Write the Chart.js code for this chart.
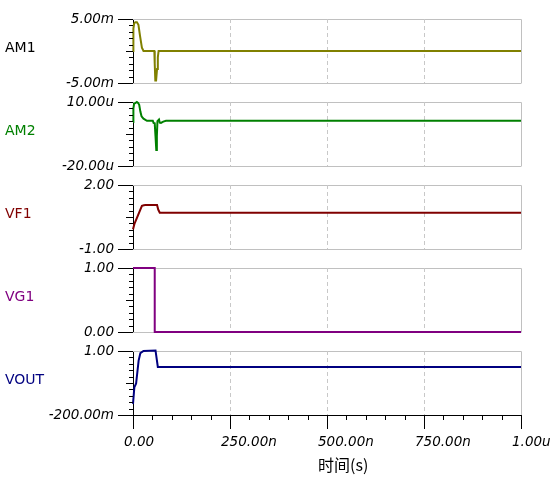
<!DOCTYPE html>
<html>
<head>
<meta charset="utf-8">
<script src="https://cdn.jsdelivr.net/npm/chart.js@4.4.0/dist/chart.umd.min.js"></script>
<style>
body { margin: 0; background: #fff; }
#wrap { position: relative; width: 554px; height: 485px; }
#wrap canvas { position: absolute; left: 0; }
</style>
</head>
<body>
<div id="wrap">
  <canvas id="cAM1" width="554" height="84" style="top:9px"></canvas>
  <canvas id="cAM2" width="554" height="84" style="top:92px"></canvas>
  <canvas id="cVF1" width="554" height="84" style="top:175px"></canvas>
  <canvas id="cVG1" width="554" height="84" style="top:258px"></canvas>
  <canvas id="cVOUT" width="554" height="144" style="top:341px"></canvas>
</div>
<script>
// 时间轴 (ns)
const xTickLabels = ['0.00', '250.00n', '500.00n', '750.00n', '1.00u'];
const gridTimes = [250, 500, 750];
const xTitle = '时间(s)';

// AM1 (mA)
const am1Time = [0, 1, 3, 6, 10, 14, 18, 23, 27, 55, 56, 57.5, 59.5, 62, 64, 66, 1000];
const am1Val  = [0, 3.5, 4.3, 4.5, 4.5, 4.1, 2.4, 0.5, 0, 0, -2, -4.6, -4.6, -2.8, -1, 0, 0];
const am1Ticks = ['-5.00m', '5.00m'];

// AM2 (uA)
const am2Time = [0, 1, 3, 6, 10, 13, 16, 19, 22, 27, 36, 51, 53, 56, 58, 60, 61.5, 63, 67, 69, 72, 78, 85, 1000];
const am2Val  = [0.6, 7, 9.3, 9.5, 10, 9.6, 8.7, 5.5, 3.3, 2.2, 1.2, 1.2, 0.2, 0, -6, -12.5, -6, 1.0, 1.8, 0.3, 0.2, 0.8, 1.2, 1.2];
const am2Ticks = ['-20.00u', '10.00u'];

// VF1 (V)
const vf1Time = [0, 4, 23, 28, 32, 62, 65, 69, 1000];
const vf1Val  = [-0.08, 0.19, 1.02, 1.05, 1.06, 1.06, 0.85, 0.70, 0.70];
const vf1Ticks = ['-1.00', '2.00'];

// VG1 (V)
const vg1Time = [0, 56, 56, 1000];
const vg1Val  = [1, 1, 0, 0];
const vg1Ticks = ['0.00', '1.00'];

// VOUT (V)
const voutTime = [0, 3.5, 8, 14.5, 19, 27, 58, 64, 1000];
const voutVal  = [0.01, 0.32, 0.39, 0.82, 0.96, 1.0, 1.01, 0.70, 0.70];
const voutTicks = ['-200.00m', '1.00'];

const tickFont = { family: '"DejaVu Sans", sans-serif', size: 13.5, style: 'italic' };

// 边框、虚线网格、刻度线和通道名
const panelDeco = {
  id: 'panelDeco',
  beforeDatasetsDraw(chart, args, o) {
    const { ctx, chartArea: a } = chart;
    const x = chart.scales.x;
    ctx.save();
    ctx.lineWidth = 1;
    ctx.strokeStyle = '#c0c0c0';
    ctx.beginPath();
    ctx.moveTo(a.left, a.top + 0.5);
    ctx.lineTo(a.right + 0.5, a.top + 0.5);
    ctx.lineTo(a.right + 0.5, a.bottom);
    if (!o.bottom) {
      ctx.moveTo(a.left, a.bottom + 0.5);
      ctx.lineTo(a.right + 0.5, a.bottom + 0.5);
    }
    ctx.stroke();
    ctx.setLineDash([4, 3]);
    ctx.strokeStyle = '#c8c8c8';
    gridTimes.forEach(t => {
      const px = Math.round(x.getPixelForValue(t)) + 0.5;
      ctx.beginPath();
      ctx.moveTo(px, a.top);
      ctx.lineTo(px, a.bottom);
      ctx.stroke();
    });
    ctx.restore();
  },
  afterDraw(chart, args, o) {
    const { ctx, chartArea: a } = chart;
    const x = chart.scales.x, y = chart.scales.y;
    ctx.save();
    ctx.strokeStyle = '#000';
    ctx.lineWidth = 1;
    const n = y.ticks.length;
    y.ticks.forEach((t, i) => {
      const py = Math.round(y.getPixelForValue(t.value)) + 0.5;
      const len = (i === 0 || i === n - 1) ? 15 : (i === (n - 1) / 2 ? 7 : 4);
      ctx.beginPath();
      ctx.moveTo(a.left - len, py);
      ctx.lineTo(a.left, py);
      ctx.stroke();
    });
    if (o.bottom) {
      x.ticks.forEach(t => {
        const px = Math.round(x.getPixelForValue(t.value)) + 0.5;
        const len = t.value % 250 === 0 ? 14 : 5;
        ctx.beginPath();
        ctx.moveTo(px, a.bottom);
        ctx.lineTo(px, a.bottom + len);
        ctx.stroke();
      });
      ctx.font = '16px "Noto Sans CJK SC", sans-serif';
      ctx.fillStyle = '#000';
      ctx.textBaseline = 'middle';
      ctx.fillText(xTitle, 318, a.bottom + 50);
    }
    ctx.font = '14px "DejaVu Sans", sans-serif';
    ctx.fillStyle = o.labelColor;
    ctx.textBaseline = 'alphabetic';
    ctx.fillText(o.name, 5, Math.round((a.top + a.bottom) / 2) + 1);
    ctx.restore();
  }
};

function makePanel(id, time, vals, color, labelColor, name, yMin, yMax, yLabels, bottom) {
  const pts = time.map((t, i) => ({ x: t, y: vals[i] }));
  return new Chart(document.getElementById(id), {
    type: 'line',
    data: { datasets: [{ data: pts, borderColor: color, borderWidth: 2, pointRadius: 0, tension: 0, fill: false, clip: 4 }] },
    options: {
      responsive: false,
      animation: false,
      events: [],
      layout: { padding: { left: 0, right: 33, top: 10, bottom: bottom ? 0 : 10 } },
      plugins: {
        legend: { display: false },
        tooltip: { enabled: false },
        panelDeco: { labelColor, name, bottom }
      },
      scales: {
        x: {
          type: 'linear', min: 0, max: 1000,
          grid: { display: false, drawTicks: false },
          border: { display: bottom, color: '#000', width: 1 },
          ticks: {
            display: bottom, stepSize: 50, autoSkip: false, maxRotation: 0,
            align: 'start', labelOffset: -9, padding: 19, color: '#000', font: tickFont,
            callback: v => v % 250 === 0 ? xTickLabels[v / 250] : ''
          },
          afterFit: s => { s.height = bottom ? 70 : 0; s.paddingLeft = 0; s.paddingRight = 0; }
        },
        y: {
          min: yMin, max: yMax,
          grid: { display: false, drawTicks: false },
          border: { display: true, color: '#000', width: 1 },
          ticks: {
            count: 11, autoSkip: false, padding: 19, color: '#000', font: tickFont,
            callback: (v, i, arr) => i === 0 ? yLabels[0] : (i === arr.length - 1 ? yLabels[1] : '')
          },
          afterFit: s => { s.width = 133; s.paddingTop = 0; s.paddingBottom = 0; }
        }
      }
    },
    plugins: [panelDeco]
  });
}

makePanel('cAM1', am1Time, am1Val, '#808000', '#000000', 'AM1', -5, 5, am1Ticks, false);
makePanel('cAM2', am2Time, am2Val, '#008000', '#008000', 'AM2', -20, 10, am2Ticks, false);
makePanel('cVF1', vf1Time, vf1Val, '#800000', '#800000', 'VF1', -1, 2, vf1Ticks, false);
makePanel('cVG1', vg1Time, vg1Val, '#800080', '#800080', 'VG1', 0, 1, vg1Ticks, false);
makePanel('cVOUT', voutTime, voutVal, '#000080', '#000080', 'VOUT', -0.2, 1, voutTicks, true);
</script>
</body>
</html>
